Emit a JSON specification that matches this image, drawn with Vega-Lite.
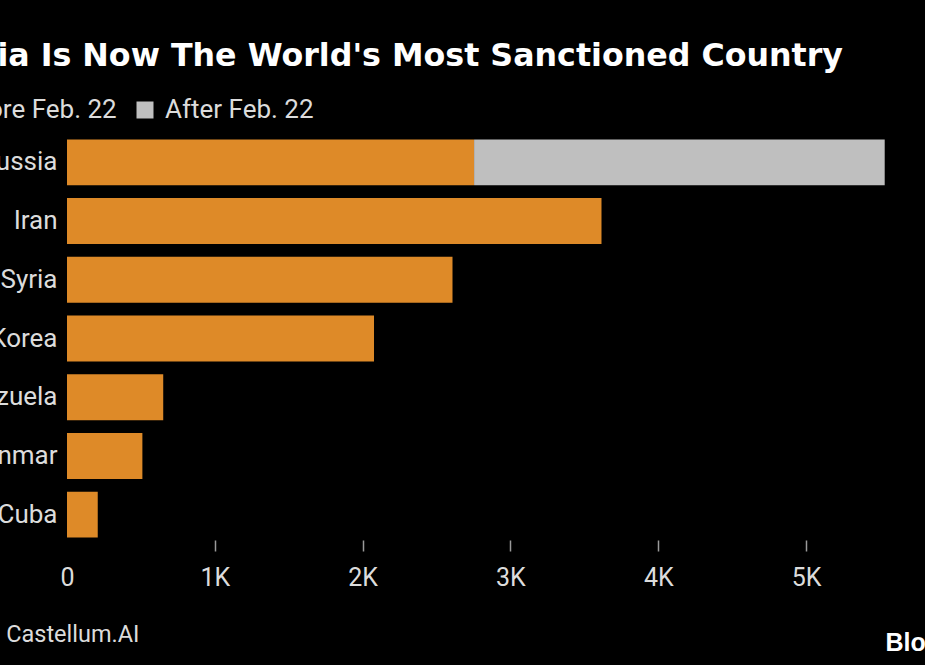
{
  "$schema": "https://vega.github.io/schema/vega-lite/v6.json",
  "width": 818,
  "height": 403,
  "autosize": {"type": "none"},
  "padding": {"left": 67, "top": 137, "right": 40, "bottom": 125},
  "background": "#000000",
  "title": {
    "text": "Russia Is Now The World's Most Sanctioned Country",
    "anchor": "end",
    "frame": "group",
    "dx": -42,
    "offset": 24,
    "color": "#ffffff",
    "font": "DejaVu Sans",
    "fontWeight": "bold",
    "fontSize": 31.7
  },
  "data": {
    "values": [
      {"country": "Russia", "period": "Before Feb. 22", "k": 1, "count": 2754},
      {"country": "Russia", "period": "After Feb. 22", "k": 2, "count": 2778},
      {"country": "Iran", "period": "Before Feb. 22", "k": 1, "count": 3616},
      {"country": "Syria", "period": "Before Feb. 22", "k": 1, "count": 2608},
      {"country": "North Korea", "period": "Before Feb. 22", "k": 1, "count": 2077},
      {"country": "Venezuela", "period": "Before Feb. 22", "k": 1, "count": 651},
      {"country": "Myanmar", "period": "Before Feb. 22", "k": 1, "count": 510},
      {"country": "Cuba", "period": "Before Feb. 22", "k": 1, "count": 208}
    ]
  },
  "mark": {"type": "bar"},
  "encoding": {
    "y": {
      "field": "country",
      "type": "nominal",
      "sort": ["Russia", "Iran", "Syria", "North Korea", "Venezuela", "Myanmar", "Cuba"],
      "scale": {"paddingInner": 0.217, "paddingOuter": 0.041},
      "axis": {
        "title": "Bloomberg",
        "titleAngle": 0,
        "titleX": 818,
        "titleY": 513,
        "titleAlign": "left",
        "titleBaseline": "alphabetic",
        "titleFont": "Liberation Sans",
        "titleFontWeight": "bold",
        "titleFontSize": 25,
        "titleColor": "#ffffff",
        "domain": false,
        "ticks": false,
        "labelPadding": 10,
        "labelFont": "Roboto",
        "labelFontSize": 26,
        "labelColor": "#dcdcdc"
      }
    },
    "x": {
      "field": "count",
      "type": "quantitative",
      "stack": "zero",
      "scale": {"domain": [0, 5534], "nice": false},
      "axis": {
        "values": [0, 1000, 2000, 3000, 4000, 5000],
        "labelExpr": "datum.value == 0 ? '0' : (datum.value / 1000) + 'K'",
        "labelFlush": false,
        "domain": false,
        "grid": false,
        "tickColor": "#9a9a9a",
        "tickSize": 11,
        "tickWidth": 1.5,
        "tickOpacity": {"condition": {"test": "datum.value == 0", "value": 0}, "value": 1},
        "labelFont": "Roboto",
        "labelFontSize": 25,
        "labelColor": "#dcdcdc",
        "labelBaseline": "alphabetic",
        "labelPadding": 34,
        "title": "Source: Castellum.AI",
        "titleX": 72,
        "titleY": 101,
        "titleAlign": "right",
        "titleAnchor": null,
        "titleBaseline": "alphabetic",
        "titleFont": "Roboto",
        "titleFontWeight": "normal",
        "titleFontSize": 23.5,
        "titleColor": "#dcdcdc"
      }
    },
    "color": {
      "field": "period",
      "type": "nominal",
      "scale": {"domain": ["Before Feb. 22", "After Feb. 22"], "range": ["#DE8A28", "#BFBFBF"]},
      "legend": {
        "title": null,
        "orient": "none",
        "direction": "horizontal",
        "legendX": -151,
        "legendY": -40,
        "padding": 0,
        "symbolType": "square",
        "symbolSize": 289,
        "symbolStrokeWidth": 0,
        "symbolOpacity": 1,
        "labelOffset": 7,
        "columnPadding": 15,
        "labelLimit": 400,
        "labelFont": "Roboto",
        "labelFontSize": 26,
        "labelColor": "#dcdcdc"
      }
    },
    "order": {"field": "k", "type": "quantitative"}
  },
  "config": {
    "view": {"stroke": null}
  }
}
